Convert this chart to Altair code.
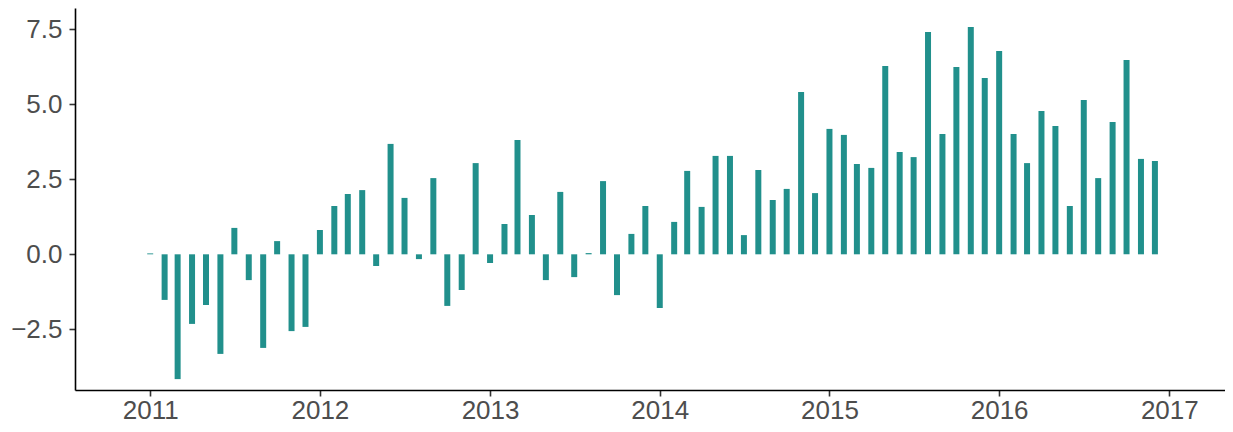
import altair as alt
import pandas as pd

months = pd.date_range("2011-01-01", "2016-12-01", freq="MS").strftime("%Y-%m-%d").tolist()

values = [
    0.03, -1.52, -4.16, -2.32, -1.69, -3.32, 0.88, -0.86, -3.12, 0.44, -2.56, -2.42,
    0.81, 1.61, 2.01, 2.14, -0.39, 3.68, 1.88, -0.16, 2.54, -1.72, -1.19, 3.04,
    -0.29, 1.01, 3.81, 1.31, -0.86, 2.08, -0.76, 0.04, 2.44, -1.36, 0.68, 1.61,
    -1.79, 1.08, 2.78, 1.58, 3.28, 3.28, 0.64, 2.81, 1.81, 2.18, 5.41, 2.04,
    4.18, 3.98, 3.01, 2.88, 6.28, 3.41, 3.24, 7.41, 4.01, 6.24, 7.58, 5.88,
    6.78, 4.01, 3.04, 4.78, 4.28, 1.61, 5.14, 2.54, 4.41, 6.48, 3.18, 3.11,
]

y_ticks = [-2.5, 0.0, 2.5, 5.0, 7.5]
x_ticks = ["2011-01-01", "2012-01-01", "2013-01-01", "2014-01-01",
           "2015-01-01", "2016-01-01", "2017-01-01"]

df = pd.DataFrame({"date": months, "value": values})

chart = alt.Chart(df).mark_bar(size=6, color="#21908C").encode(
    x=alt.X(
        "date:T",
        scale=alt.Scale(domain=["2010-08-03", "2017-04-20"]),
        axis=alt.Axis(
            title=None,
            values=x_ticks,
            format="%Y",
            grid=False,
            labelFontSize=26,
            labelPadding=1,
        ),
    ),
    y=alt.Y(
        "value:Q",
        scale=alt.Scale(domain=[-4.523, 8.21], nice=False, zero=False),
        axis=alt.Axis(
            title=None,
            values=y_ticks,
            format=".1f",
            grid=False,
            labelFontSize=26,
            labelPadding=7,
        ),
    ),
    y2=alt.datum(0),
).properties(
    width=1150,
    height=382,
    padding={"left": 67, "top": 0, "right": 0, "bottom": 34},
    autosize="none",
).configure_view(
    stroke=None
).configure_axis(
    domainColor="black",
    domainWidth=1.6,
    tickColor="#333333",
    tickWidth=1.6,
    tickSize=6,
    labelColor="#4d4d4d",
    labelFont="Liberation Sans",
)

chart.save("out.html", embed_options={"renderer": "svg", "actions": False})
